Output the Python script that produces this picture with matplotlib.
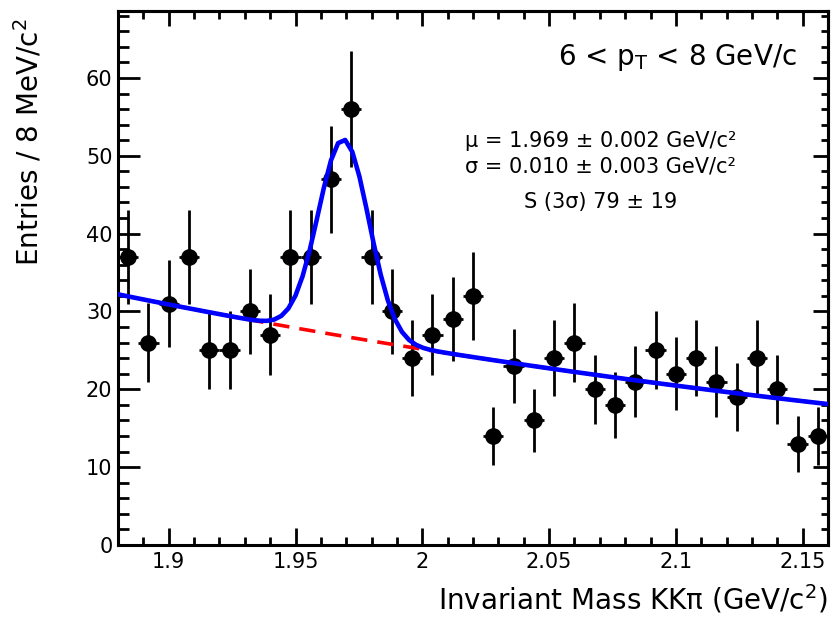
import numpy as np
import matplotlib
matplotlib.use("Agg")
import matplotlib.pyplot as plt
from matplotlib.ticker import FixedLocator, FixedFormatter, MultipleLocator

# histogram: bin centres (8 MeV bins), counts and Poisson errors
bin_centers = [1.884, 1.892, 1.900, 1.908, 1.916, 1.924, 1.932, 1.940, 1.948, 1.956,
               1.964, 1.972, 1.980, 1.988, 1.996, 2.004, 2.012, 2.020, 2.028, 2.036,
               2.044, 2.052, 2.060, 2.068, 2.076, 2.084, 2.092, 2.100, 2.108, 2.116,
               2.124, 2.132, 2.140, 2.148, 2.156]
counts = [37, 26, 31, 37, 25, 25, 30, 27, 37, 37,
          47, 56, 37, 30, 24, 27, 29, 32, 14, 23,
          16, 24, 26, 20, 18, 21, 25, 22, 24, 21,
          19, 24, 20, 13, 14]
count_err = [6.08, 5.10, 5.57, 6.08, 5.00, 5.00, 5.48, 5.20, 6.08, 6.08,
             6.86, 7.48, 6.08, 5.48, 4.90, 5.20, 5.39, 5.66, 3.74, 4.80,
             4.00, 4.90, 5.10, 4.47, 4.24, 4.58, 5.00, 4.69, 4.90, 4.58,
             4.36, 4.90, 4.47, 3.61, 3.74]
bin_half = 0.004

# fit result: gaussian peak on exponential background
fit_mu = 1.969
fit_sigma = 0.0100
fit_amp = 25.3
bkg_norm = 32.2      # background at x = 1.88
bkg_slope = -2.057   # per GeV/c^2

x_ticks = [1.9, 1.95, 2.0, 2.05, 2.1, 2.15]
x_tick_labels = ["1.9", "1.95", "2", "2.05", "2.1", "2.15"]
y_ticks = [0, 10, 20, 30, 40, 50, 60]
y_tick_labels = ["0", "10", "20", "30", "40", "50", "60"]

x_lo, x_hi = 1.88, 2.16
y_lo, y_hi = 0, 68.6

plt.rcParams['font.family'] = ['DejaVu Sans']
plt.rcParams['mathtext.default'] = 'regular'

fig = plt.figure(figsize=(8.32, 6.18), dpi=100)
ax = fig.add_axes([118 / 832, 73 / 618, 710 / 832, 534 / 618])

# fit curves (sampled like ROOT's TF1, 100 points)
xf = np.linspace(x_lo, x_hi, 101)
bkg = bkg_norm * np.exp(bkg_slope * (xf - x_lo))
total = bkg + fit_amp * np.exp(-0.5 * ((xf - fit_mu) / fit_sigma) ** 2)

ax.errorbar(bin_centers, counts, yerr=count_err, xerr=bin_half, fmt='o',
            color='black', markersize=11, elinewidth=2.0, capsize=0, zorder=2)
ax.plot(xf, bkg, color='#ff0000', lw=2.6, dashes=(4.5, 2.8), zorder=3)
ax.plot(xf, total, color='#0000ff', lw=3.3, zorder=4)

ax.set_xlim(x_lo, x_hi)
ax.set_ylim(y_lo, y_hi)

for s in ax.spines.values():
    s.set_linewidth(2.2)

ax.xaxis.set_major_locator(FixedLocator(x_ticks))
ax.xaxis.set_major_formatter(FixedFormatter(x_tick_labels))
ax.xaxis.set_minor_locator(MultipleLocator(0.01))
ax.yaxis.set_major_locator(FixedLocator(y_ticks))
ax.yaxis.set_major_formatter(FixedFormatter(y_tick_labels))
ax.yaxis.set_minor_locator(MultipleLocator(2))

ax.tick_params(axis='x', which='major', direction='in', length=12, width=2, labelsize=15, pad=5)
ax.tick_params(axis='x', which='minor', direction='in', length=6, width=2)
ax.tick_params(axis='y', which='major', direction='in', length=16, width=2, labelsize=15, pad=4)
ax.tick_params(axis='y', which='minor', direction='in', length=8, width=2)

# ROOT-style ticks on the opposite sides (shorter)
top = ax.secondary_xaxis('top')
top.xaxis.set_major_locator(FixedLocator(x_ticks))
top.xaxis.set_minor_locator(MultipleLocator(0.01))
top.tick_params(which='major', direction='in', length=11, width=2, labeltop=False)
top.tick_params(which='minor', direction='in', length=5.5, width=2)
right = ax.secondary_yaxis('right')
right.yaxis.set_major_locator(FixedLocator(y_ticks))
right.yaxis.set_minor_locator(MultipleLocator(2))
right.tick_params(which='major', direction='in', length=11, width=2, labelright=False)
right.tick_params(which='minor', direction='in', length=5, width=2)
top.spines['top'].set_linewidth(2.2)
right.spines['right'].set_linewidth(2.2)

ax.set_xlabel(r"Invariant Mass KKπ (GeV/c$^{2}$)", fontsize=20, loc='right', labelpad=8)
ax.set_ylabel(r"Entries / 8 MeV/c$^{2}$", fontsize=20, loc='top', labelpad=30)
ax.yaxis.label.set_y(0.985)

ax.text(0.956, 0.899, r"6 < p$_{T}$ < 8 GeV/c", transform=ax.transAxes,
        ha='right', va='baseline', fontsize=20)
ax.text(0.680, 0.745, "μ = 1.969 ± 0.002 GeV/c²", transform=ax.transAxes,
        ha='center', va='baseline', fontsize=15)
ax.text(0.680, 0.697, "σ = 0.010 ± 0.003 GeV/c²", transform=ax.transAxes,
        ha='center', va='baseline', fontsize=15)
ax.text(0.680, 0.631, "S (3σ) 79 ± 19", transform=ax.transAxes,
        ha='center', va='baseline', fontsize=15)

fig.savefig("out.png", dpi=100)
